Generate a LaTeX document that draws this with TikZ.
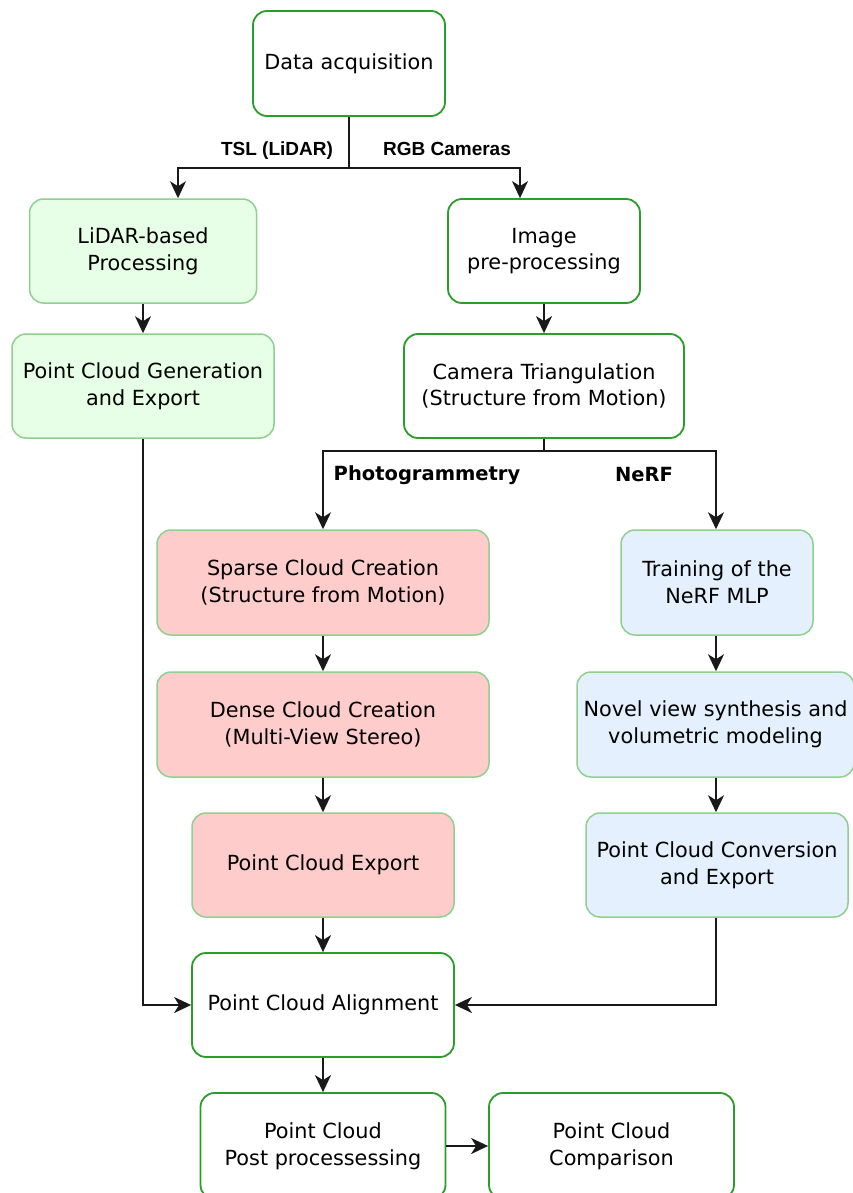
\documentclass[tikz,border=0pt]{standalone}
\usepackage{fontspec}
\setmainfont{DejaVu Sans}
\newfontfamily\labfont{Liberation Sans}
\usetikzlibrary{arrows.meta}
\definecolor{dkgreen}{HTML}{2A9D2A}
\definecolor{ltgreenline}{HTML}{8ED08E}
\definecolor{ltgreenfill}{HTML}{E6FFE6}
\definecolor{pinkfill}{HTML}{FFCCCC}
\definecolor{bluefill}{HTML}{E4F0FD}
\tikzset{
  box/.style={rectangle, rounded corners=14pt, align=center, inner sep=0pt,
    font=\fontsize{20.8}{26.7}\selectfont},
  wbox/.style={box, draw=dkgreen, line width=1.8pt, fill=white},
  gbox/.style={box, draw=ltgreenline, line width=1.5pt, fill=ltgreenfill},
  pbox/.style={box, draw=ltgreenline, line width=1.5pt, fill=pinkfill},
  bbox/.style={box, draw=ltgreenline, line width=1.5pt, fill=bluefill},
  conn/.style={draw=black!90, line width=1.8pt},
  arr/.style={conn, -{Stealth[length=17pt,width=16pt,inset=5pt]}},
  lab/.style={font=\labfont\bfseries\fontsize{19}{22}\selectfont},
  labd/.style={font=\bfseries\fontsize{19.5}{22}\selectfont},
}
\begin{document}
\begin{tikzpicture}[x=1pt,y=-1pt]
\useasboundingbox (0,0) rectangle (853,1193);
% nodes
\node[wbox, minimum width=192pt, minimum height=105pt] (da) at (349,63.5) {Data acquisition};
\node[gbox, minimum width=227pt, minimum height=104pt] (lp) at (143,251) {LiDAR-based\\Processing};
\node[wbox, minimum width=192pt, minimum height=104pt] (ip) at (544,251) {Image\\pre-processing};
\node[gbox, minimum width=262pt, minimum height=104pt] (pg) at (143,386) {Point Cloud Generation\\and Export};
\node[wbox, minimum width=280pt, minimum height=104pt] (ct) at (544,386) {Camera Triangulation\\(Structure from Motion)};
\node[pbox, minimum width=332pt, minimum height=105pt] (sc) at (323,582.5) {Sparse Cloud Creation\\(Structure from Motion)};
\node[bbox, minimum width=192pt, minimum height=105pt] (tn) at (717,582.5) {Training of the\\NeRF MLP};
\node[pbox, minimum width=332pt, minimum height=105pt] (dc) at (323,724.5) {Dense Cloud Creation\\(Multi-View Stereo)};
\node[bbox, minimum width=277pt, minimum height=105pt] (nv) at (715.5,724.5) {Novel view synthesis and\\volumetric modeling};
\node[pbox, minimum width=262pt, minimum height=104pt] (pe) at (323,865) {Point Cloud Export};
\node[bbox, minimum width=262pt, minimum height=104pt] (pc) at (717,865) {Point Cloud Conversion\\and Export};
\node[wbox, minimum width=262pt, minimum height=104pt] (al) at (323,1005) {Point Cloud Alignment};
\node[wbox, minimum width=245pt, minimum height=106pt] (pp) at (323,1146) {Point Cloud\\Post processessing};
\node[wbox, minimum width=245pt, minimum height=106pt] (cm) at (611.5,1146) {Point Cloud\\Comparison};
% labels
\node[lab] (l1) at (277,151) {TSL (LiDAR)};
\node[lab] (l2) at (447,149) {RGB Cameras};
\node[labd] (l3) at (427,475) {Photogrammetry};
\node[labd] (l4) at (644,475) {NeRF};
% junctions
\coordinate (j1) at (349,168);
\coordinate (tl) at (178,168);
\coordinate (tr) at (520,168);
\coordinate (j2) at (544,451);
\coordinate (bl) at (323,451);
\coordinate (br) at (716,451);
\coordinate (cl) at (143,1005);
\coordinate (cr) at (716,1005);
% connectors
\draw[conn] (da.south) -- (j1);
\draw[arr] (j1) -- (tl) -- (tl |- lp.north);
\draw[arr] (j1) -- (tr) -- (tr |- ip.north);
\draw[arr] (lp) -- (pg);
\draw[arr] (ip) -- (ct);
\draw[conn] (ct.south) -- (j2);
\draw[arr] (j2) -- (bl) -- (sc.north);
\draw[arr] (j2) -- (br) -- (br |- tn.north);
\draw[arr] (sc) -- (dc);
\draw[arr] (tn.south -| br) -- (nv.north -| br);
\draw[arr] (dc) -- (pe);
\draw[arr] (nv.south -| br) -- (pc.north -| br);
\draw[arr] (pe) -- (al);
\draw[arr] (pg.south) -- (cl) -- (al.west);
\draw[arr] (pc.south -| cr) -- (cr) -- (al.east);
\draw[arr] (al) -- (pp);
\draw[arr] (pp) -- (cm);
\end{tikzpicture}
\end{document}
